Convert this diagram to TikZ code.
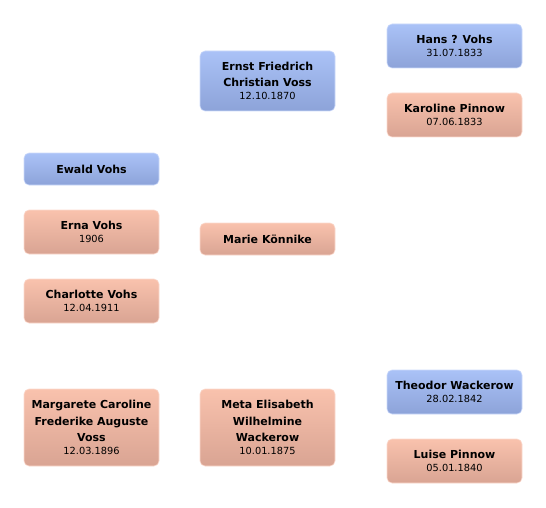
\documentclass[tikz,border=0pt]{standalone}
\usepackage{fontspec}
\setmainfont{DejaVu Sans}
\definecolor{maleTop}{HTML}{AAC2F7}
\definecolor{maleBottom}{HTML}{8DA3D9}
\definecolor{femaleTop}{HTML}{F9C2AD}
\definecolor{femaleBottom}{HTML}{D9A493}

\newcommand{\who}[1]{{\bfseries #1}}
\newcommand{\born}[1]{\\[-3.6pt]{\fontsize{9.8}{12}\selectfont #1}}

\begin{document}
\begin{tikzpicture}[x=1pt, y=-1pt,
    person/.style={rounded corners=5pt, minimum width=135pt, inner sep=0pt,
        align=center, line width=0.6pt, font=\fontsize{11}{16.3}\selectfont},
    malebox/.style={person, top color=maleTop, bottom color=maleBottom, draw=maleTop!60!white},
    femalebox/.style={person, top color=femaleTop, bottom color=femaleBottom, draw=femaleTop!60!white}]

    \useasboundingbox (0,0) rectangle (546,508);

    % first column
    \node[malebox, minimum height=32pt] (ewald) at (91.5,169) {\who{Ewald Vohs}};
    \node[femalebox, minimum height=44pt] (erna) at (91.5,232) {\who{Erna Vohs}\born{1906}};
    \node[femalebox, minimum height=44pt] (charlotte) at (91.5,301) {\who{Charlotte Vohs}\born{12.04.1911}};
    \node[femalebox, minimum height=77pt] (margarete) at (91.5,427.5)
        {\who{Margarete Caroline}\\\who{Frederike Auguste}\\\who{Voss}\born{12.03.1896}};

    % parents
    \node[malebox, minimum height=60pt] (ernst) at (267.5,81)
        {\who{Ernst Friedrich}\\\who{Christian Voss}\born{12.10.1870}};
    \node[femalebox, minimum height=32pt] (marie) at (267.5,239) {\who{Marie Könnike}};
    \node[femalebox, minimum height=77pt] (meta) at (267.5,427.5)
        {\who{Meta Elisabeth}\\\who{Wilhelmine}\\\who{Wackerow}\born{10.01.1875}};

    % grandparents
    \node[malebox, minimum height=44pt] (hans) at (454.5,46) {\who{Hans ? Vohs}\born{31.07.1833}};
    \node[femalebox, minimum height=44pt] (karoline) at (454.5,115) {\who{Karoline Pinnow}\born{07.06.1833}};
    \node[malebox, minimum height=44pt] (theodor) at (454.5,392) {\who{Theodor Wackerow}\born{28.02.1842}};
    \node[femalebox, minimum height=44pt] (luise) at (454.5,461) {\who{Luise Pinnow}\born{05.01.1840}};

\end{tikzpicture}
\end{document}
